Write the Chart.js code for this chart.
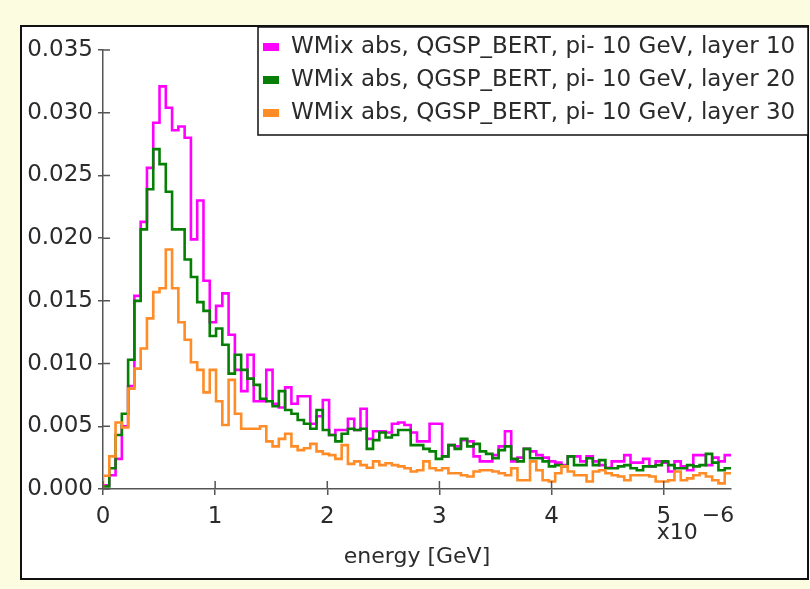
<!DOCTYPE html>
<html>
<head>
<meta charset="utf-8">
<script src="https://cdn.jsdelivr.net/npm/chart.js@4.4.0/dist/chart.umd.min.js"></script>
<style>
  html, body { margin: 0; padding: 0; background: #fcfce0; }
  #mycanvas { display: block; }
</style>
</head>
<body>
<canvas id="mycanvas" width="810" height="589"></canvas>
<script>
// histogram binning (x in units of 1e-6 GeV)
var nBins = 100;
var xMin = 0;
var xMax = 5.6;

var labels = [
  'WMix abs, QGSP_BERT, pi- 10 GeV, layer 10',
  'WMix abs, QGSP_BERT, pi- 10 GeV, layer 20',
  'WMix abs, QGSP_BERT, pi- 10 GeV, layer 30'
];

var layer10 = [
  0.0003, 0.0011, 0.0024, 0.0050, 0.0082, 0.0154, 0.0213, 0.0256, 0.0292, 0.0321,
  0.0304, 0.0286, 0.0289, 0.0280, 0.0199, 0.0230, 0.0166, 0.0133, 0.0146, 0.0156,
  0.0123, 0.0095, 0.0078, 0.0107, 0.0070, 0.0070, 0.0095, 0.0068, 0.0065, 0.0081,
  0.0068, 0.0074, 0.0074, 0.0052, 0.0058, 0.0071, 0.0043, 0.0047, 0.0047, 0.0056,
  0.0047, 0.0064, 0.0040, 0.0046, 0.0046, 0.0045, 0.0052, 0.0053, 0.0051, 0.0045,
  0.0038, 0.0038, 0.0052, 0.0052, 0.0026, 0.0035, 0.0034, 0.0039, 0.0038, 0.0026,
  0.0022, 0.0022, 0.0027, 0.0034, 0.0046, 0.0022, 0.0025, 0.0032, 0.0030, 0.0027,
  0.0025, 0.0022, 0.0021, 0.0019, 0.0026, 0.0026, 0.0022, 0.0026, 0.0022, 0.0019,
  0.0017, 0.0022, 0.0022, 0.0027, 0.0021, 0.0021, 0.0024, 0.0018, 0.0022, 0.0021,
  0.0014, 0.0022, 0.0018, 0.0015, 0.0027, 0.0027, 0.0019, 0.0025, 0.0022, 0.0027
];

var layer20 = [
  0.0002, 0.00165, 0.0043, 0.0060, 0.0103, 0.0150, 0.0207, 0.0239, 0.0271, 0.0259,
  0.0237, 0.0207, 0.0207, 0.0183, 0.0169, 0.0149, 0.0142, 0.0122, 0.0128, 0.0115,
  0.0092, 0.0107, 0.0095, 0.0088, 0.0083, 0.0072, 0.0070, 0.0066, 0.0078, 0.0063,
  0.0060, 0.0055, 0.0052, 0.0048, 0.0063, 0.0047, 0.0043, 0.0038, 0.0044, 0.0048,
  0.0047, 0.0048, 0.0032, 0.0039, 0.0045, 0.0041, 0.0043, 0.0047, 0.0047, 0.0035,
  0.0035, 0.0032, 0.0030, 0.0024, 0.0026, 0.0035, 0.0032, 0.0040, 0.0034, 0.0036,
  0.0030, 0.0028, 0.00245, 0.0031, 0.0034, 0.0024, 0.0022, 0.0032, 0.00245, 0.00245,
  0.0022, 0.0018, 0.0019, 0.0018, 0.0026, 0.0019, 0.0019, 0.00245, 0.0019, 0.0023,
  0.00165, 0.00165, 0.0018, 0.0019, 0.00165, 0.0015, 0.0018, 0.0018, 0.0019, 0.0022,
  0.0019, 0.00165, 0.00165, 0.0019, 0.0018, 0.0019, 0.0028, 0.0021, 0.0015, 0.00165
];

var layer30 = [
  0.00106, 0.0026, 0.0053, 0.0049, 0.0080, 0.0096, 0.0112, 0.0136, 0.0157, 0.0160,
  0.0191, 0.0160, 0.0133, 0.0119, 0.0101, 0.0095, 0.0077, 0.0095, 0.0070, 0.0051,
  0.0087, 0.0060, 0.0048, 0.0048, 0.0048, 0.0050, 0.0038, 0.0034, 0.0040, 0.0044,
  0.0034, 0.0031, 0.00325, 0.0036, 0.0030, 0.0028, 0.0027, 0.0024, 0.0035, 0.0020,
  0.0022, 0.0019, 0.0017, 0.0022, 0.0019, 0.00205, 0.0019, 0.0018, 0.00165, 0.0014,
  0.0015, 0.0022, 0.00165, 0.0015, 0.00165, 0.00125, 0.00125, 0.0011, 0.0010, 0.0014,
  0.0015, 0.0015, 0.0014, 0.00125, 0.0011, 0.00165, 0.0007, 0.0007, 0.0022, 0.0015,
  0.0007, 0.0006, 0.00125, 0.0018, 0.0014, 0.0011, 0.0011, 0.0006, 0.0014, 0.0015,
  0.00125, 0.0011, 0.0010, 0.0007, 0.0011, 0.0011, 0.0011, 0.0010, 0.0006, 0.0006,
  0.0007, 0.0014, 0.0007, 0.00085, 0.0011, 0.00125, 0.0010, 0.0007, 0.00045, 0.00125
];

var yTicks = [0, 0.005, 0.010, 0.015, 0.020, 0.025, 0.030, 0.035];
var xTicks = [0, 1, 2, 3, 4, 5];

var FONT = 'DejaVu Sans';
var TEXT = '#2b2b2b';
var AXIS = '#555555';

// turn bin contents into step points (left edge of every bin + closing edge)
function toSteps(values) {
  var w = (xMax - xMin) / nBins;
  var pts = [{x: xMin, y: 0}];
  for (var i = 0; i < values.length; i++) {
    pts.push({x: xMin + i * w, y: values[i]});
  }
  pts.push({x: xMin + values.length * w, y: values[values.length - 1]});
  return pts;
}

var panelPlugin = {
  id: 'panel',
  beforeDraw: function(chart) {
    var ctx = chart.ctx;
    ctx.save();
    ctx.fillStyle = '#fcfce0';
    ctx.fillRect(0, 0, chart.width, chart.height);
    ctx.fillStyle = '#ffffff';
    ctx.fillRect(21, 26, 787, 553);
    ctx.strokeStyle = '#111111';
    ctx.lineWidth = 2;
    ctx.strokeRect(21, 26, 787, 553);
    ctx.restore();
  }
};

var decorPlugin = {
  id: 'decor',
  afterDraw: function(chart) {
    var ctx = chart.ctx;
    var xs = chart.scales.x, ys = chart.scales.y;
    ctx.save();
    // inner halves of the tick marks
    ctx.strokeStyle = AXIS;
    ctx.lineWidth = 1.5;
    ctx.beginPath();
    xs.ticks.forEach(function(t) {
      var px = xs.getPixelForValue(t.value);
      ctx.moveTo(px, ys.bottom);
      ctx.lineTo(px, ys.bottom - 8);
    });
    ys.ticks.forEach(function(t) {
      var py = ys.getPixelForValue(t.value);
      ctx.moveTo(xs.left, py);
      ctx.lineTo(xs.left + 7, py);
    });
    ctx.stroke();

    // exponent label
    ctx.fillStyle = TEXT;
    ctx.font = '22px "' + FONT + '"';
    ctx.textBaseline = 'middle';
    ctx.textAlign = 'left';
    var p5 = xs.getPixelForValue(5);
    ctx.fillText('x10', p5 - 7, 533);
    ctx.fillText('\u22126', p5 + 38, 516);

    // legend box
    var lx = 258, ly = 27, lw = 550, lh = 108;
    ctx.fillStyle = '#ffffff';
    ctx.fillRect(lx, ly, lw, lh);
    ctx.strokeStyle = '#111111';
    ctx.lineWidth = 1.5;
    ctx.strokeRect(lx, ly, lw, lh);
    chart.data.datasets.forEach(function(ds, i) {
      var cy = 47 + i * 33;
      ctx.fillStyle = ds.borderColor;
      ctx.fillRect(263, cy - 4, 16, 8);
      ctx.fillStyle = TEXT;
      ctx.font = '23px "' + FONT + '"';
      ctx.fillText(ds.label, 291, cy);
    });
    ctx.restore();
  }
};

var ctx = document.getElementById('mycanvas');

new Chart(ctx, {
  type: 'line',
  data: {
    datasets: [
      {
        label: labels[0],
        data: toSteps(layer10),
        borderColor: '#ff00ff',
        borderWidth: 2.6,
        stepped: true,
        pointRadius: 0,
        fill: false,
        order: 3
      },
      {
        label: labels[1],
        data: toSteps(layer20),
        borderColor: '#058005',
        borderWidth: 2.6,
        stepped: true,
        pointRadius: 0,
        fill: false,
        order: 2
      },
      {
        label: labels[2],
        data: toSteps(layer30),
        borderColor: '#ff8c26',
        borderWidth: 2.6,
        stepped: true,
        pointRadius: 0,
        fill: false,
        order: 1
      }
    ]
  },
  options: {
    responsive: false,
    animation: false,
    devicePixelRatio: 1,
    layout: { padding: { left: 0, right: 79, top: 50, bottom: 0 } },
    plugins: {
      legend: { display: false },
      tooltip: { enabled: false }
    },
    scales: {
      x: {
        type: 'linear',
        min: xMin,
        max: xMax,
        afterFit: function(s) { s.height = 100; },
        afterBuildTicks: function(s) {
          s.ticks = xTicks.map(function(v) { return {value: v}; });
        },
        ticks: {
          includeBounds: false,
          autoSkip: false,
          maxRotation: 0,
          padding: 8,
          color: TEXT,
          font: { family: FONT, size: 23 },
          callback: function(v) { return String(v); }
        },
        grid: { drawOnChartArea: false, tickLength: 6, color: AXIS, lineWidth: 1.5 },
        border: { color: AXIS, width: 1.5 },
        title: {
          display: true,
          text: 'energy [GeV]',
          color: TEXT,
          font: { family: FONT, size: 22 },
          padding: { top: 0, bottom: 19 }
        }
      },
      y: {
        min: 0,
        max: 0.035,
        afterFit: function(s) { s.width = 103; },
        afterBuildTicks: function(s) {
          s.ticks = yTicks.map(function(v) { return {value: v}; });
        },
        ticks: {
          padding: 5,
          color: TEXT,
          font: { family: FONT, size: 23 },
          callback: function(v) { return v.toFixed(3); }
        },
        grid: { drawOnChartArea: false, tickLength: 5, color: AXIS, lineWidth: 1.5 },
        border: { color: AXIS, width: 1.5 }
      }
    }
  },
  plugins: [panelPlugin, decorPlugin]
});
</script>
</body>
</html>
